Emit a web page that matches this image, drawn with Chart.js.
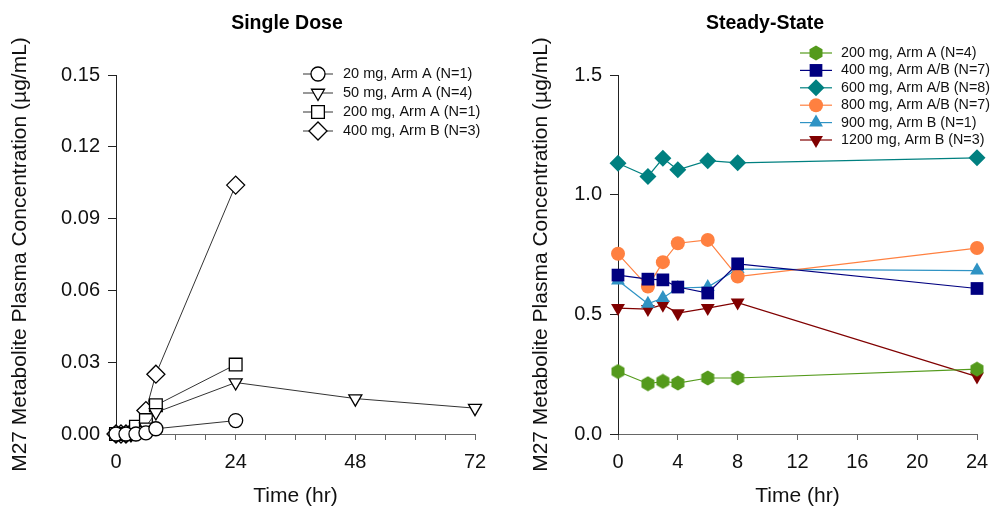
<!DOCTYPE html>
<html>
<head>
<meta charset="utf-8">
<title>M27 Metabolite Plasma Concentration</title>
<script src="https://cdn.jsdelivr.net/npm/chart.js@4/dist/chart.umd.min.js"></script>
<style>
  html, body { margin: 0; padding: 0; background: #fff; }
  #wrap { position: relative; width: 990px; height: 508px; overflow: hidden; }
  #singleChart { position: absolute; left: 0; top: 0; }
  #steadyChart { position: absolute; left: 502px; top: 0; }
</style>
</head>
<body>
<div id="wrap">
  <canvas id="singleChart" width="495" height="508"></canvas>
  <canvas id="steadyChart" width="488" height="508"></canvas>
</div>
<script>
// Single dose panel: each dose has its own sampling times (hr) and mean conc (ug/mL)
const sdLabels = ['20 mg, Arm A (N=1)', '50 mg, Arm A (N=4)', '200 mg, Arm A (N=1)', '400 mg, Arm B (N=3)'];
const sd20Time = [0, 2, 4, 6, 8, 24];
const sd20Conc = [0, 0, 0, 0.0005, 0.0022, 0.0056];
const sd50Time = [0, 2, 3, 4, 6, 8, 24, 48, 72];
const sd50Conc = [0, 0, 0, 0.0005, 0.003, 0.009, 0.0215, 0.0148, 0.0108];
const sd200Time = [0, 2, 4, 6, 8, 24];
const sd200Conc = [0, 0, 0.003, 0.0058, 0.012, 0.029];
const sd400Time = [0, 1, 2, 3, 4, 6, 8, 24];
const sd400Conc = [0, 0, 0, 0.0005, 0.0015, 0.0098, 0.025, 0.104];
const sdXTicks = [0, 24, 48, 72];

// Steady-state panel: common sampling times
const ssLabels = ['200 mg, Arm A (N=4)', '400 mg, Arm A/B (N=7)', '600 mg, Arm A/B (N=8)',
                  '800 mg, Arm A/B (N=7)', '900 mg, Arm B (N=1)', '1200 mg, Arm B (N=3)'];
const ssTime = [0, 2, 3, 4, 6, 8, 24];
const ss200 = [0.261, 0.210, 0.220, 0.213, 0.234, 0.234, 0.271];
const ss400 = [0.664, 0.647, 0.644, 0.614, 0.589, 0.711, 0.608];
const ss600 = [1.131, 1.076, 1.152, 1.104, 1.142, 1.133, 1.154];
const ss800 = [0.753, 0.616, 0.718, 0.797, 0.811, 0.658, 0.777];
const ss900 = [0.641, 0.544, 0.568, 0.610, 0.614, 0.689, 0.683];
const ss1200 = [0.526, 0.522, 0.540, 0.505, 0.526, 0.549, 0.240];

const FONT = '"Liberation Sans", Arial, sans-serif';
Chart.defaults.font.family = FONT;
Chart.defaults.color = '#000';

function toPoints(times, values) {
    return times.map((t, i) => ({ x: t, y: values[i] }));
}

// filled hexagon used as a point style (pointy top)
function hexagonMarker(color, size) {
    const c = document.createElement('canvas');
    c.width = size; c.height = size;
    const g = c.getContext('2d');
    const r = size / 2 - 0.5;
    g.beginPath();
    for (let k = 0; k < 6; k++) {
        const a = Math.PI / 3 * k - Math.PI / 2;
        g.lineTo(size / 2 + r * Math.cos(a), size / 2 + r * Math.sin(a));
    }
    g.closePath();
    g.fillStyle = color;
    g.fill();
    return c;
}

// panel heading + line/marker legend
const panelDecor = {
    id: 'panelDecor',
    afterDraw(chart, args, opts) {
        const ctx = chart.ctx;
        ctx.save();
        ctx.fillStyle = '#000';
        ctx.font = 'bold 19.5px ' + FONT;
        ctx.textAlign = 'center';
        ctx.textBaseline = 'middle';
        ctx.fillText(opts.title, opts.titleX, opts.titleY);

        ctx.font = opts.fontSize + 'px ' + FONT;
        ctx.textAlign = 'left';
        chart.data.datasets.forEach((ds, i) => {
            const y = opts.legendY + i * opts.rowHeight;
            const x0 = opts.legendX, x1 = opts.legendX + opts.lineLength;
            ctx.strokeStyle = ds.borderColor;
            ctx.lineWidth = ds.borderWidth;
            ctx.beginPath();
            ctx.moveTo(x0, y);
            ctx.lineTo(x1, y);
            ctx.stroke();
            ctx.fillStyle = ds.pointBackgroundColor;
            ctx.strokeStyle = ds.pointBorderColor;
            ctx.lineWidth = ds.pointBorderWidth;
            Chart.helpers.drawPoint(ctx, {
                pointStyle: ds.pointStyle,
                radius: ds.pointRadius,
                rotation: ds.pointRotation || 0,
                borderWidth: ds.pointBorderWidth
            }, (x0 + x1) / 2, y);
            ctx.fillStyle = '#111';
            ctx.fillText(ds.label, x1 + opts.textGap, y);
        });
        ctx.restore();
    }
};

function openSeries(label, data, style, radius, rotation) {
    return {
        label: label,
        data: data,
        borderColor: '#333',
        borderWidth: 1,
        pointStyle: style,
        pointRadius: radius,
        pointRotation: rotation || 0,
        pointBackgroundColor: '#fff',
        pointBorderColor: '#000',
        pointBorderWidth: 1.3,
        clip: false
    };
}

function filledSeries(label, data, color, style, radius, rotation) {
    return {
        label: label,
        data: data,
        borderColor: color,
        borderWidth: 1.2,
        pointStyle: style,
        pointRadius: radius,
        pointRotation: rotation || 0,
        pointBackgroundColor: color,
        pointBorderColor: color,
        pointBorderWidth: 0,
        clip: false
    };
}

function axisOptions(cfg) {
    return {
        type: 'linear',
        min: cfg.min,
        max: cfg.max,
        afterFit(s) {
            if (cfg.width) s.width = cfg.width;
            if (cfg.height) s.height = cfg.height;
            s.paddingTop = 0; s.paddingBottom = 0; s.paddingLeft = 0; s.paddingRight = 0;
        },
        ticks: {
            stepSize: cfg.step,
            autoSkip: false,
            maxRotation: 0,
            padding: cfg.tickPad,
            font: { size: 20 },
            color: '#111',
            callback: cfg.format
        },
        grid: { drawOnChartArea: false, drawTicks: true, tickLength: cfg.tickLength, color: cfg.lineColor },
        border: { display: true, color: cfg.lineColor, width: 1 },
        title: {
            display: true,
            text: cfg.title,
            font: { size: 21, lineHeight: 1.1 },
            color: '#111',
            padding: cfg.titlePad
        }
    };
}

const singleChart = new Chart(document.getElementById('singleChart'), {
    type: 'line',
    data: {
        datasets: [
            openSeries(sdLabels[0], toPoints(sd20Time, sd20Conc), 'circle', 7),
            openSeries(sdLabels[1], toPoints(sd50Time, sd50Conc), 'triangle', 7.5, 180),
            openSeries(sdLabels[2], toPoints(sd200Time, sd200Conc), 'rect', 9),
            openSeries(sdLabels[3], toPoints(sd400Time, sd400Conc), 'rectRot', 9)
        ]
    },
    options: {
        responsive: false,
        animation: false,
        layout: { padding: { top: 75, right: 20, left: 0, bottom: 0 } },
        plugins: {
            legend: { display: false },
            tooltip: { enabled: false },
            panelDecor: { title: 'Single Dose', titleX: 287, titleY: 24, fontSize: 14.5,
                          legendX: 303, legendY: 74, rowHeight: 19, lineLength: 30, textGap: 10 }
        },
        scales: {
            x: axisOptions({ min: 0, max: 72, step: 6, height: 74, tickLength: 6, tickPad: 10,
                             lineColor: '#666', title: 'Time (hr)', titlePad: { top: 0, bottom: 0 },
                             format: v => sdXTicks.includes(v) ? String(v) : '' }),
            y: axisOptions({ min: 0, max: 0.15, step: 0.03, width: 116, tickLength: 8, tickPad: 8,
                             lineColor: '#222', title: 'M27 Metabolite Plasma Concentration (µg/mL)',
                             titlePad: { top: 9, bottom: 0 },
                             format: v => v.toFixed(2) })
        }
    },
    plugins: [panelDecor]
});

const steadyChart = new Chart(document.getElementById('steadyChart'), {
    type: 'line',
    data: {
        datasets: [
            filledSeries(ssLabels[0], toPoints(ssTime, ss200), '#549a1c', hexagonMarker('#549a1c', 16), 8),
            filledSeries(ssLabels[1], toPoints(ssTime, ss400), '#000080', 'rect', 9),
            filledSeries(ssLabels[2], toPoints(ssTime, ss600), '#008080', 'rectRot', 8.5),
            filledSeries(ssLabels[3], toPoints(ssTime, ss800), '#ff8040', 'circle', 7),
            filledSeries(ssLabels[4], toPoints(ssTime, ss900), '#2f93c4', 'triangle', 8),
            filledSeries(ssLabels[5], toPoints(ssTime, ss1200), '#800000', 'triangle', 8, 180)
        ]
    },
    options: {
        responsive: false,
        animation: false,
        layout: { padding: { top: 75, right: 13, left: 0, bottom: 0 } },
        plugins: {
            legend: { display: false },
            tooltip: { enabled: false },
            panelDecor: { title: 'Steady-State', titleX: 263, titleY: 24, fontSize: 14.3,
                          legendX: 298, legendY: 53, rowHeight: 17.4, lineLength: 32, textGap: 9 }
        },
        scales: {
            x: axisOptions({ min: 0, max: 24, step: 4, height: 74, tickLength: 6, tickPad: 10,
                             lineColor: '#666', title: 'Time (hr)', titlePad: { top: 0, bottom: 0 },
                             format: v => String(v) }),
            y: axisOptions({ min: 0, max: 1.5, step: 0.5, width: 116, tickLength: 8, tickPad: 8,
                             lineColor: '#222', title: 'M27 Metabolite Plasma Concentration (µg/mL)',
                             titlePad: { top: 28, bottom: 0 },
                             format: v => v.toFixed(1) })
        }
    },
    plugins: [panelDecor]
});
</script>
</body>
</html>
